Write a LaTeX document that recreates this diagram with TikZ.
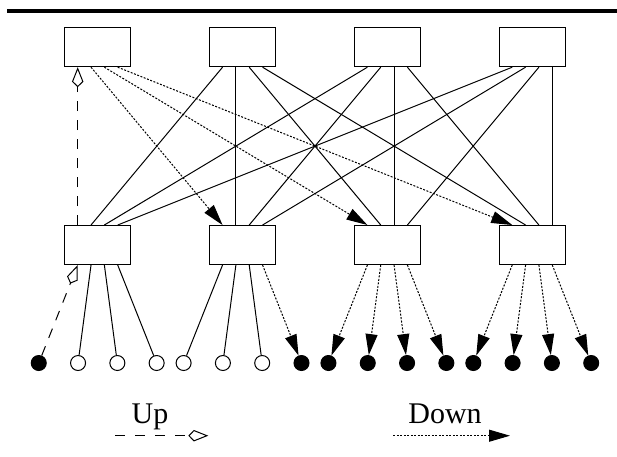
\documentclass[tikz,border=0pt]{standalone}
\usepackage{fontspec}
\setmainfont{Liberation Serif}
\usetikzlibrary{arrows.meta}
\begin{document}
\begin{tikzpicture}[x=1pt,y=-1pt,
  box/.style={draw,line width=1pt,minimum width=66pt,minimum height=39pt,inner sep=0pt},
  dot/.style={circle,draw,line width=1pt,minimum size=15pt,inner sep=0pt},
  full/.style={dot,fill=black},
  hollow/.style={dot,fill=white},
  link/.style={line width=1pt},
  down/.style={line width=1pt,dash pattern=on 2pt off 1.5pt,-{Triangle[length=21pt,width=12pt]}},
  up/.style={line width=1pt,dash pattern=on 10pt off 9pt,-{Kite[open,length=20pt,width=11.5pt,inset=5.5pt]}},
  lbl/.style={font=\fontsize{30}{36}\selectfont,inner sep=0pt,anchor=base}]
\useasboundingbox (0,0) rectangle (617,456);
\coordinate (r1) at (7,11);
\coordinate (r2) at (617,11);
\draw[line width=4pt] (r1) -- (r2);
% boxes
\foreach \i in {1,...,4} {
  \node[box] (T\i) at ({97.7+144.85*(\i-1)},47.2) {};
  \node[box] (M\i) at ({97.7+144.85*(\i-1)},245) {};
}
% leaves
\foreach \n/\s in {0/full,1/hollow,2/hollow,3/hollow,4/hollow,5/hollow,6/hollow,7/full,
                   8/full,9/full,10/full,11/full,12/full,13/full,14/full,15/full} {
  \pgfmathtruncatemacro\g{int(\n/4)}
  \pgfmathtruncatemacro\k{\n-4*\g}
  \node[\s] (c\n) at ({97.7+144.85*\g-58.95+39.3*\k},363) {};
}
% top to middle: solid
\foreach \i in {2,3,4} {
  \foreach \j in {1,...,4} {
    \pgfmathsetmacro\a{-20+13.333*(\j-1)}
    \pgfmathsetmacro\b{-20+13.333*(\i-1)}
    \draw[link] ([xshift=\a pt]T\i.south) -- ([xshift=\b pt]M\j.north);
  }
}
% top-left box: dotted down arrows
\foreach \j in {2,3,4} {
  \pgfmathsetmacro\a{-20+13.333*(\j-1)}
  \draw[down] ([xshift=\a pt]T1.south) -- ([xshift=-20pt]M\j.north);
}
% up dashed
\draw[up] ([xshift=-20pt]M1.north) -- ([xshift=-20pt]T1.south);
\draw[up] (c0) -- ([xshift=-20pt]M1.south);
% middle to leaves
\foreach \m in {1,...,4} {
  \foreach \j in {1,...,4} {
    \pgfmathtruncatemacro\n{4*(\m-1)+\j-1}
    \pgfmathsetmacro\a{-20+13.333*(\j-1)}
    \ifnum\n=0 \else
      \ifnum\n<7
        \draw[link] ([xshift=\a pt]M\m.south) -- (c\n);
      \else
        \draw[down] ([xshift=\a pt]M\m.south) -- (c\n);
      \fi
    \fi
  }
}
% legend
\node[lbl] (uplbl) at (150,423) {Up};
\coordinate (ua) at (115,435.7);
\coordinate (ub) at (208.3,435.7);
\draw[up,dash pattern=on 10pt off 10pt] (ua) -- (ub);
\node[lbl] (dnlbl) at (445,423) {Down};
\coordinate (da) at (393.3,435.7);
\coordinate (db) at (510,435.7);
\draw[down] (da) -- (db);
\end{tikzpicture}
\end{document}
